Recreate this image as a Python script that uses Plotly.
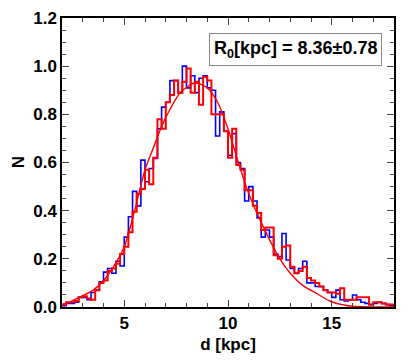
import plotly.graph_objects as go

# histogram bin edges (kpc), bin width 0.2
bin_edges = [round(2.0 + 0.2 * k, 1) for k in range(81)]

blue_counts = [0.005, 0.015, 0.015, 0.02, 0.04, 0.04, 0.03, 0.06, 0.07, 0.105,
               0.145, 0.16, 0.14, 0.19, 0.17, 0.29, 0.375, 0.48, 0.42, 0.61,
               0.52, 0.575, 0.617, 0.74, 0.83, 0.85, 0.94, 0.94, 0.89, 1.0,
               0.91, 0.96, 0.89, 0.95, 0.96, 0.91, 0.90, 0.71, 0.81, 0.73,
               0.63, 0.72, 0.60, 0.575, 0.44, 0.50, 0.44, 0.37, 0.29, 0.32,
               0.29, 0.22, 0.21, 0.305, 0.195, 0.16, 0.14, 0.16, 0.19, 0.10,
               0.10, 0.085, 0.085, 0.07, 0.06, 0.04, 0.07, 0.03, 0.025, 0.03,
               0.05, 0.03, 0.02, 0.015, 0.01, 0.015, 0.02, 0.015, 0.01, 0.005]

red_counts = [0.01, 0.02, 0.02, 0.025, 0.04, 0.045, 0.035, 0.03, 0.07, 0.10,
              0.11, 0.15, 0.16, 0.18, 0.22, 0.25, 0.31, 0.395, 0.47, 0.49,
              0.57, 0.51, 0.62, 0.78, 0.74, 0.85, 0.88, 0.94, 0.89, 0.935,
              0.99, 0.89, 0.935, 0.84, 0.955, 0.94, 0.80, 0.80, 0.80, 0.73,
              0.62, 0.74, 0.59, 0.57, 0.485, 0.485, 0.42, 0.39, 0.32, 0.33,
              0.33, 0.215, 0.20, 0.25, 0.255, 0.167, 0.14, 0.15, 0.167, 0.12,
              0.11, 0.10, 0.085, 0.07, 0.06, 0.06, 0.055, 0.078, 0.03, 0.03,
              0.03, 0.04, 0.04, 0.04, 0.01, 0.02, 0.02, 0.015, 0.01, 0.01]

# fitted curve
fit_d = [2.0, 2.2, 2.9, 3.5, 4.0, 4.5, 5.0, 5.5, 6.0, 6.4, 6.8, 7.2, 7.7, 8.4,
         9.0, 9.5, 10.0, 10.5, 11.0, 11.5, 12.0, 12.5, 13.0, 13.6, 14.3, 14.9,
         15.7, 16.5, 18.0]
fit_n = [0.01, 0.015, 0.043, 0.07, 0.11, 0.17, 0.25, 0.40, 0.57, 0.66, 0.75,
         0.82, 0.89, 0.93, 0.91, 0.85, 0.74, 0.60, 0.47, 0.37, 0.28, 0.20,
         0.14, 0.09, 0.055, 0.025, 0.006, 0.001, 0.0]

fig = go.Figure()
fig.add_trace(go.Scatter(x=bin_edges, y=blue_counts + [blue_counts[-1]], mode='lines',
                         line=dict(color='#0000ff', width=1.6, shape='hv'), showlegend=False))
fig.add_trace(go.Scatter(x=bin_edges, y=red_counts + [red_counts[-1]], mode='lines',
                         line=dict(color='#ff0000', width=2, shape='hv'), showlegend=False))
fig.add_trace(go.Scatter(x=fit_d, y=fit_n, mode='lines',
                         line=dict(color='#ff0000', width=1.4, shape='spline', smoothing=0.8),
                         showlegend=False))

font = dict(family='Liberation Sans, Arial, sans-serif', size=17, color='black', weight='bold')
fig.update_xaxes(range=[2, 18], tickvals=[5, 10, 15], ticks='inside', ticklen=7, tickwidth=1.2,
                 showline=True, linecolor='black', linewidth=1.5, mirror='allticks',
                 showgrid=False, zeroline=False, tickfont=font, automargin=False,
                 minor=dict(dtick=1, ticks='inside', ticklen=4, tickwidth=1, showgrid=False),
                 title=dict(text='d [kpc]', font=font, standoff=6))
fig.update_yaxes(range=[0, 1.2], dtick=0.2, tickformat='.1f', ticks='inside', ticklen=7, tickwidth=1.2,
                 showline=True, linecolor='black', linewidth=1.5, mirror='allticks',
                 showgrid=False, zeroline=False, tickfont=font, automargin=False,
                 minor=dict(dtick=0.05, ticks='inside', ticklen=4, tickwidth=1, showgrid=False))
# y title as a rotated annotation so it sits close to the page edge
fig.add_annotation(xref='paper', yref='paper', x=-0.13, y=0.5, xanchor='center', yanchor='middle',
                   showarrow=False, text='N', textangle=-90, font=font, borderpad=0)
fig.add_annotation(xref='paper', yref='paper', x=0.702, y=0.891, xanchor='center', yanchor='middle',
                   showarrow=False, text='R<sub>0</sub>[kpc] = 8.36±0.78', font=dict(font, size=18),
                   bordercolor='#888888', borderwidth=1, borderpad=4, bgcolor='white')
# page body adds an 8px offset, so margins are shifted to keep the frame where it belongs
fig.update_layout(width=415, height=363, margin=dict(l=54, r=29, t=10, b=64),
                  paper_bgcolor='white', plot_bgcolor='white')
fig.write_html("out.html")
